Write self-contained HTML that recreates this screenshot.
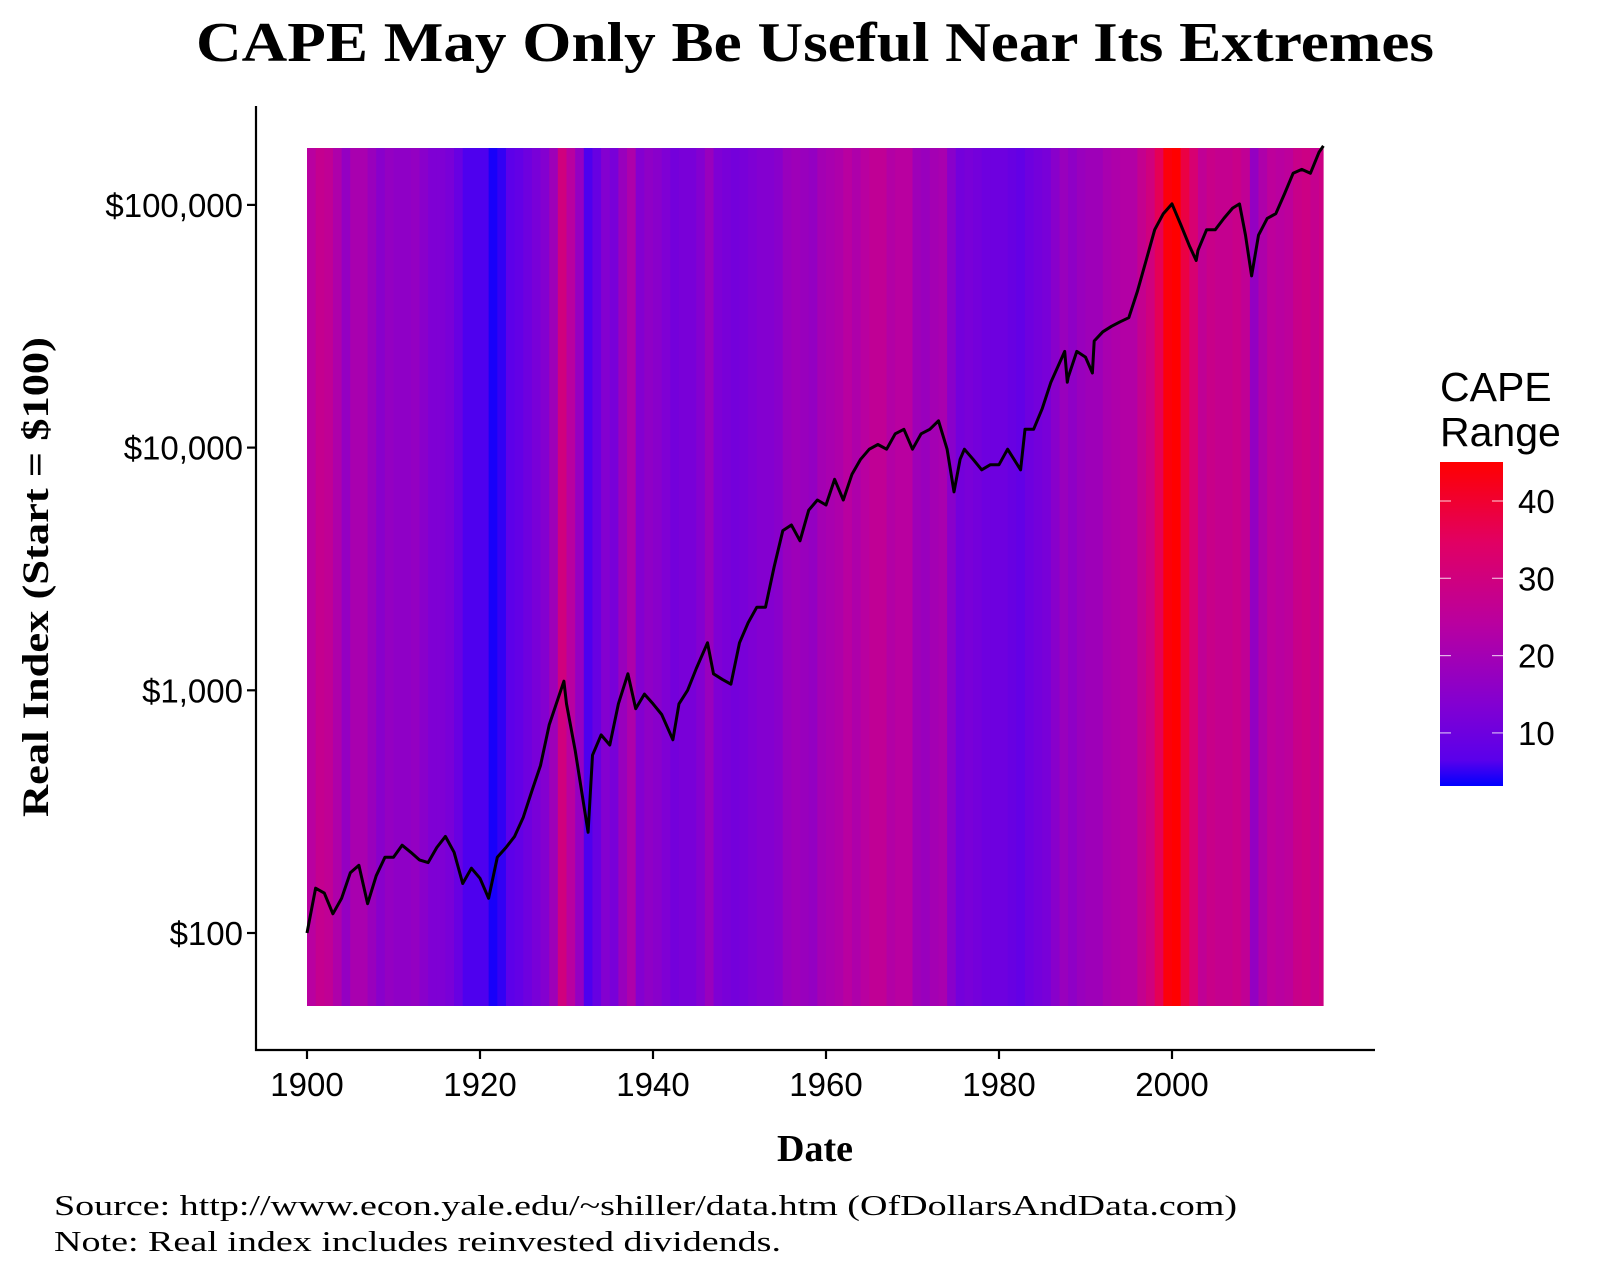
<!DOCTYPE html>
<html><head><meta charset="utf-8"><style>
html,body{margin:0;padding:0;background:#fff;width:1600px;height:1280px;overflow:hidden}
svg{display:block}
.tick{font-family:"Liberation Sans",Arial,sans-serif;font-size:33px;fill:#000}
</style></head><body>
<svg id="chart" width="1600" height="1280" viewBox="0 0 1600 1280">
<text x="815" y="61" text-anchor="middle" font-family="Liberation Serif,serif" font-weight="bold" font-size="56" textLength="1238" lengthAdjust="spacingAndGlyphs">CAPE May Only Be Useful Near Its Extremes</text>
<g id="stripes"></g>
<g id="lineg"></g>
<line x1="256" y1="106" x2="256" y2="1051" stroke="#000" stroke-width="2.2"/>
<line x1="255" y1="1050" x2="1375" y2="1050" stroke="#000" stroke-width="2.2"/>
<g id="yticks"></g>
<g id="xticks"></g>
<text transform="translate(48,577) rotate(-90)" text-anchor="middle" font-family="Liberation Serif,serif" font-weight="bold" font-size="37" textLength="480" lengthAdjust="spacingAndGlyphs">Real Index (Start = $100)</text>
<text x="815" y="1161" text-anchor="middle" font-family="Liberation Serif,serif" font-weight="bold" font-size="38">Date</text>
<text x="54" y="1215" font-family="Liberation Serif,serif" font-size="29" textLength="1183" lengthAdjust="spacingAndGlyphs">Source:  http://www.econ.yale.edu/~shiller/data.htm (OfDollarsAndData.com)</text>
<text x="54" y="1251" font-family="Liberation Serif,serif" font-size="29" textLength="727" lengthAdjust="spacingAndGlyphs">Note:  Real index includes reinvested dividends.</text>
<g>
<text x="1440" y="401" font-family="Liberation Sans,sans-serif" font-size="41">CAPE</text>
<text x="1440" y="446" font-family="Liberation Sans,sans-serif" font-size="41">Range</text>
<defs><linearGradient id="cbar" x1="0" y1="1" x2="0" y2="0">
<stop offset="0" stop-color="rgb(0,0,255)"/><stop offset="0.08" stop-color="rgb(90,0,235)"/><stop offset="0.25" stop-color="rgb(130,0,210)"/><stop offset="0.5" stop-color="rgb(185,0,160)"/><stop offset="0.75" stop-color="rgb(225,0,100)"/><stop offset="1" stop-color="rgb(255,0,0)"/>
</linearGradient></defs>
<rect x="1440" y="462" width="63" height="324" fill="url(#cbar)"/>
<g id="cticks"></g>
</g>
</svg>
<script>
const capeYears=[1900,1901,1902,1903,1904,1905,1906,1907,1908,1909,1910,1911,1912,1913,1914,1915,1916,1917,1918,1919,1920,1921,1922,1923,1924,1925,1926,1927,1928,1929,1930,1931,1932,1933,1934,1935,1936,1937,1938,1939,1940,1941,1942,1943,1944,1945,1946,1947,1948,1949,1950,1951,1952,1953,1954,1955,1956,1957,1958,1959,1960,1961,1962,1963,1964,1965,1966,1967,1968,1969,1970,1971,1972,1973,1974,1975,1976,1977,1978,1979,1980,1981,1982,1983,1984,1985,1986,1987,1988,1989,1990,1991,1992,1993,1994,1995,1996,1997,1998,1999,2000,2001,2002,2003,2004,2005,2006,2007,2008,2009,2010,2011,2012,2013,2014,2015,2016,2017];
const capeValues=[24,27,26,22,17,21,21,18,15,17,16,16,17,15,13,13,12,9,6,6,6,4,5,7,8,10,12,14,19,30,24,17,6,9,14,12,18,22,14,16,15,13,11,12,12,14,18,13,12,11,12,13,14,14,15,18,19,18,17,20,21,22,24,22,24,26,26,23,24,24,19,18,20,21,15,11,12,11,10,10,10,9,8,10,11,12,15,18,16,18,19,19,21,22,23,23,27,30,36,44,45,38,32,26,28,27,27,28,26,17,22,25,24,25,28,29,27,29];
const idxDates=[1900,1901,1902,1903,1904,1905,1906,1907,1908,1909,1910,1911,1912,1913,1914,1915,1916,1917,1918,1919,1920,1921,1922,1923,1924,1925,1926,1927,1928,1929.7,1930,1931,1932.5,1933,1934,1935,1936,1937.1,1938,1939,1940,1941,1942.3,1943,1944,1945,1946.3,1947,1948,1949,1950,1951,1952,1953,1954,1955,1956,1957,1958,1959,1960,1961,1962,1963,1964,1965,1966,1967,1968,1969,1970,1971,1972,1973,1974,1974.8,1975.5,1976,1977,1978,1979,1980,1981,1982.5,1983,1984,1985,1986,1987.6,1987.9,1988,1989,1990,1990.8,1991,1992,1993,1994,1995,1996,1997,1998,1999,2000,2001,2002,2002.8,2003,2004,2005,2006,2007,2007.8,2008.5,2009.2,2010,2011,2012,2013,2014,2015,2016,2017,2017.5];
const idxValues=[100,153,146,120,139,177,190,132,172,205,205,230,215,200,195,225,250,215,160,185,168,139,205,225,250,300,385,490,720,1090,880,565,260,540,655,595,880,1170,840,965,880,795,625,880,1000,1230,1570,1170,1110,1060,1570,1900,2200,2200,3220,4550,4800,4130,5520,6080,5800,7400,6080,7770,8950,9850,10300,9850,11400,11900,9850,11400,11900,12900,9850,6570,8950,9850,8950,8100,8500,8500,9850,8100,11900,11900,14500,18600,24900,18600,19500,24900,23600,20300,27500,30000,31600,33000,34300,44000,59000,79000,92000,101000,83000,68000,59000,65000,79000,79000,88000,97000,101000,75000,51000,75000,88000,92000,111000,135000,140000,135000,165000,175000];
const yTickVals=[100,1000,10000,100000];
const yTickLabels=["$100","$1,000","$10,000","$100,000"];
const xTickVals=[1900,1920,1940,1960,1980,2000];
const cTickVals=[10,20,30,40];

const NS="http://www.w3.org/2000/svg";
function xs(yr){return 307+(yr-1900)*8.65;}
function ys(v){return 933-(Math.log10(v)-2)*242.7;}
function cs(v){return 501+(40-v)*7.73;}
const stops=[[0,0,0,255],[0.08,90,0,235],[0.25,130,0,210],[0.5,185,0,160],[0.75,225,0,100],[1,255,0,0]];
function col(v){let t=(v-3.1)/(45-3.1);t=Math.max(0,Math.min(1,t));
 for(let i=1;i<stops.length;i++){if(t<=stops[i][0]){const a=stops[i-1],b=stops[i];const f=(t-a[0])/(b[0]-a[0]);
 return `rgb(${Math.round(a[1]+(b[1]-a[1])*f)},0,${Math.round(a[3]+(b[3]-a[3])*f)})`;}}return "rgb(255,0,0)";}
const sg=document.getElementById('stripes');
capeYears.forEach((yr,i)=>{
 const r=document.createElementNS(NS,'rect');
 const x0=xs(yr), x1=Math.min(xs(yr+1),1323);
 r.setAttribute('x',x0);r.setAttribute('y',148);r.setAttribute('width',x1-x0+0.6);r.setAttribute('height',858);
 r.setAttribute('fill',col(capeValues[i]));
 
 
 sg.appendChild(r);
});
const lg=document.getElementById('lineg');
const p=document.createElementNS(NS,'path');
p.setAttribute('d',idxDates.map((d,i)=>(i?'L':'M')+xs(d).toFixed(1)+','+ys(idxValues[i]).toFixed(1)).join(''));
p.setAttribute('fill','none');p.setAttribute('stroke','#000');p.setAttribute('stroke-width','3');p.setAttribute('stroke-linejoin','round');


lg.appendChild(p);
const yg=document.getElementById('yticks');
yTickVals.forEach((v,i)=>{
 const y=ys(v);
 const l=document.createElementNS(NS,'line');l.setAttribute('x1',247);l.setAttribute('x2',256);l.setAttribute('y1',y);l.setAttribute('y2',y);l.setAttribute('stroke','#000');l.setAttribute('stroke-width','2.2');
 
 
 yg.appendChild(l);
 const t=document.createElementNS(NS,'text');t.setAttribute('x',243);t.setAttribute('y',y+12);t.setAttribute('text-anchor','end');t.setAttribute('class','tick');t.textContent=yTickLabels[i];
 
 
 yg.appendChild(t);
});
const xg=document.getElementById('xticks');
xTickVals.forEach(v=>{
 const x=xs(v);
 const l=document.createElementNS(NS,'line');l.setAttribute('x1',x);l.setAttribute('x2',x);l.setAttribute('y1',1050);l.setAttribute('y2',1059);l.setAttribute('stroke','#000');l.setAttribute('stroke-width','2.2');
 
 
 xg.appendChild(l);
 const t=document.createElementNS(NS,'text');t.setAttribute('x',x);t.setAttribute('y',1096);t.setAttribute('text-anchor','middle');t.setAttribute('class','tick');t.textContent=v;
 
 
 xg.appendChild(t);
});
const cg=document.getElementById('cticks');
cTickVals.forEach(v=>{
 const y=cs(v);
 [[1440,1451],[1492,1503]].forEach(s=>{const l=document.createElementNS(NS,'line');l.setAttribute('x1',s[0]);l.setAttribute('x2',s[1]);l.setAttribute('y1',y);l.setAttribute('y2',y);l.setAttribute('stroke','#fff');l.setAttribute('stroke-opacity','0.7');l.setAttribute('stroke-width','1.2');
 
 
 cg.appendChild(l);});
 const t=document.createElementNS(NS,'text');t.setAttribute('x',1518);t.setAttribute('y',y+12);t.setAttribute('class','tick');t.textContent=v;
 
 
 cg.appendChild(t);
});
</script>
</body></html>
